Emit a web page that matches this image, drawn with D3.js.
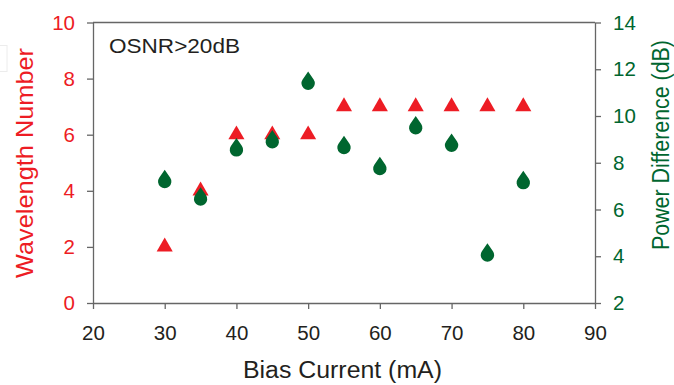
<!DOCTYPE html>
<html>
<head>
<meta charset="utf-8">
<script src="https://cdn.jsdelivr.net/npm/d3@7"></script>
<style>
  html, body { margin: 0; padding: 0; background: #fff; }
  svg { display: block; }
  text { font-family: "Liberation Sans", Arial, sans-serif; }
</style>
</head>
<body>
<svg id="chart" width="674" height="385"></svg>
<script>
// Bias current sweep (mA)
const biasCurrent = [30, 35, 40, 45, 50, 55, 60, 65, 70, 75, 80];
// Number of wavelengths with OSNR above 20 dB
const wavelengthNumber = [2, 4, 6, 6, 6, 7, 7, 7, 7, 7, 7];
// Power difference between wavelengths (dB)
const powerDifference = [7.2, 6.45, 8.55, 8.9, 11.4, 8.65, 7.75, 9.5, 8.75, 4.05, 7.15];

const xTicks = [20, 30, 40, 50, 60, 70, 80, 90];
const leftTicks = [0, 2, 4, 6, 8, 10];
const rightTicks = [2, 4, 6, 8, 10, 12, 14];

const RED = "#ed1c24";
const GREEN = "#00662f";
const AXIS = "#666666";

const svg = d3.select("#chart");
const m = { left: 93, right: 595, top: 22.5, bottom: 303 };

const x = d3.scaleLinear().domain([20, 90]).range([m.left, m.right]);
const yL = d3.scaleLinear().domain([0, 10]).range([m.bottom, m.top]);
const yR = d3.scaleLinear().domain([2, 14]).range([m.bottom, m.top]);

// faint frame at the far left edge
svg.append("rect")
  .attr("x", -2).attr("y", 45.5).attr("width", 9).attr("height", 26)
  .attr("fill", "none").attr("stroke", "#ececec").attr("stroke-width", 1);

// plot frame (top edge)
svg.append("line")
  .attr("x1", m.left).attr("x2", m.right)
  .attr("y1", m.top).attr("y2", m.top)
  .attr("stroke", AXIS).attr("stroke-width", 1.3);

function styleAxis(g, color) {
  g.select(".domain").attr("stroke", AXIS).attr("stroke-width", 1.3);
  g.selectAll(".tick line").attr("stroke", AXIS).attr("stroke-width", 1.3);
  g.selectAll(".tick text")
    .attr("fill", color)
    .style("font-size", "20.5px")
    .style("font-family", "'Liberation Sans', Arial, sans-serif");
}

const xAxis = svg.append("g")
  .attr("transform", `translate(0,${m.bottom})`)
  .call(d3.axisBottom(x).tickValues(xTicks).tickSize(6).tickSizeOuter(0).tickPadding(16));
styleAxis(xAxis, "#231f20");

const lAxis = svg.append("g")
  .attr("transform", `translate(${m.left},0)`)
  .call(d3.axisLeft(yL).tickValues(leftTicks).tickSize(6).tickSizeOuter(0).tickPadding(12));
styleAxis(lAxis, RED);

const rAxis = svg.append("g")
  .attr("transform", `translate(${m.right},0)`)
  .call(d3.axisRight(yR).tickValues(rightTicks).tickSize(6).tickSizeOuter(0).tickPadding(12));
styleAxis(rAxis, GREEN);

// axis titles
svg.append("text")
  .attr("x", 342.5).attr("y", 378)
  .attr("text-anchor", "middle")
  .attr("fill", "#231f20").style("font-size", "23.5px")
  .attr("textLength", 199).attr("lengthAdjust", "spacingAndGlyphs")
  .text("Bias Current (mA)");

svg.append("text")
  .attr("transform", "translate(33,163) rotate(-90)")
  .attr("text-anchor", "middle")
  .attr("fill", RED).style("font-size", "24.5px")
  .attr("textLength", 230).attr("lengthAdjust", "spacingAndGlyphs")
  .text("Wavelength Number");

svg.append("text")
  .attr("transform", "translate(669,145) rotate(-90)")
  .attr("text-anchor", "middle")
  .attr("fill", GREEN).style("font-size", "23.5px")
  .attr("textLength", 210).attr("lengthAdjust", "spacingAndGlyphs")
  .text("Power Difference (dB)");

// annotation
svg.append("text")
  .attr("x", 109).attr("y", 53)
  .attr("fill", "#231f20").style("font-size", "21px")
  .attr("textLength", 131).attr("lengthAdjust", "spacingAndGlyphs")
  .text("OSNR>20dB");

// drop-shaped marker: circle with a pointed top
function dropPath(r, tip) {
  const phi = Math.acos(r / tip);
  const px = r * Math.sin(phi), py = -r * Math.cos(phi);
  return `M0,${-tip}L${px},${py}A${r},${r} 0 1 1 ${-px},${py}Z`;
}

const points = biasCurrent.map((c, i) => ({
  c, n: wavelengthNumber[i], p: powerDifference[i]
}));

// wavelength number (triangles)
svg.append("g").selectAll("path")
  .data(points)
  .join("path")
  .attr("transform", d => `translate(${x(d.c)},${yL(d.n)})`)
  .attr("d", d3.symbol(d3.symbolTriangle, 112))
  .attr("fill", RED);

// power difference (drops)
svg.append("g").selectAll("path")
  .data(points)
  .join("path")
  .attr("transform", d => `translate(${x(d.c)},${yR(d.p)})`)
  .attr("d", dropPath(6.7, 11.8))
  .attr("fill", GREEN);
</script>
</body>
</html>
